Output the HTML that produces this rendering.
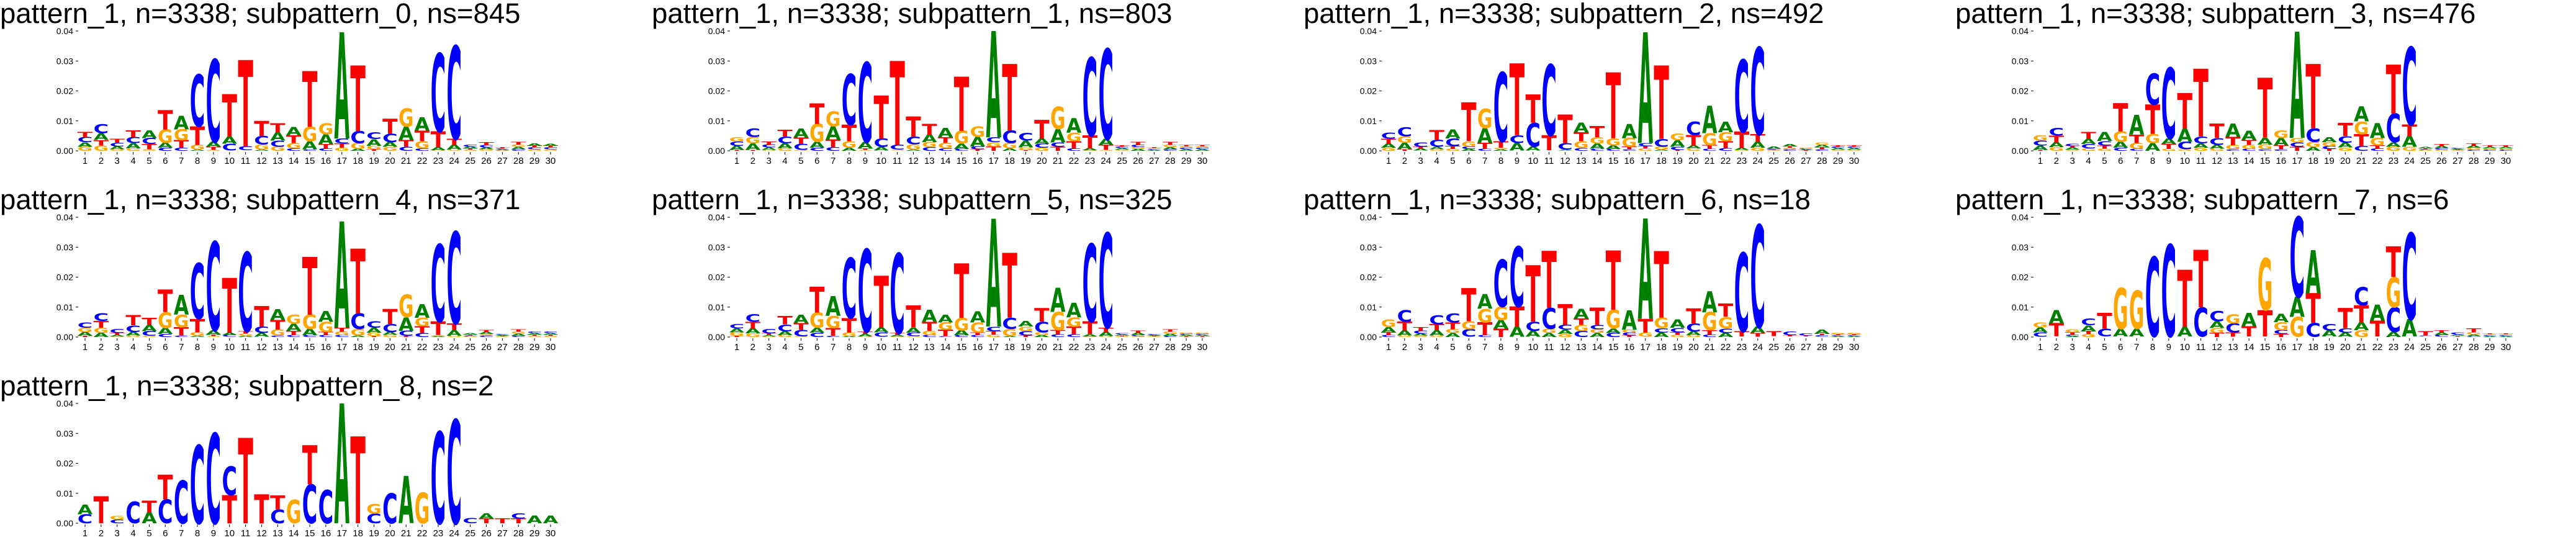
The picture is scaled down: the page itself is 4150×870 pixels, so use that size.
<!DOCTYPE html>
<html><head><meta charset="utf-8"><title>Sequence logos</title>
<style>html,body{margin:0;padding:0;background:#fff;}svg{display:block;}</style>
</head><body>
<svg id="fig" xmlns="http://www.w3.org/2000/svg" width="4150" height="870" viewBox="0 0 4150 870"></svg>
<script>
// ---- data (heights in units of 0.001) ----
const positions = [1,2,3,4,5,6,7,8,9,10,11,12,13,14,15,16,17,18,19,20,21,22,23,24,25,26,27,28,29,30];
const yTicks = [0, 0.01, 0.02, 0.03, 0.04];
const yTickLabels = ["0.00","0.01","0.02","0.03","0.04"];
const subpatternIds = [0,1,2,3,4,5,6,7,8];
const subpatternSizes = [845,803,492,476,371,325,18,6,2];

const A0=[1.5,2.3,1,1.8,2.5,1.7,4.6,0.4,1.7,2.4,0.1,0.4,2.8,2.8,2.7,3.3,35.5,0.6,2.2,1.6,4.5,4.5,1,1.6,0.6,0.6,0.3,0.8,0.8,0.7];
const C0=[1.7,3,1.2,2,2,1,1,17.2,27.5,2.3,1.3,2.8,2,0.8,0.5,0.8,1.6,4,2.3,2.8,1.3,0.8,26,31,0.6,0.8,0.3,0.5,0.6,0.6];
const G0=[1.4,1.8,0.5,0.8,0.5,4.5,3.7,1.6,0.3,0.1,0.1,1.8,1.4,1.8,4.8,3.7,1,2,1.2,1.3,6,2.4,0.2,0.4,0.4,0.5,0.2,0.8,0.5,0.5];
const T0=[1.7,1.8,1.3,2.3,1.8,6.4,2.5,6.2,1,14.1,28.8,5,3,2.6,18.6,1.4,1.5,21.9,0.5,5,2.3,3.5,5.3,2,0.4,1.1,0.4,0.9,0.6,0.6];

const A1=[1.4,2.2,0.8,1.7,3,2,4.5,1,2.2,1.2,0.1,0.4,2.5,3.1,1.8,3.2,35.5,0.8,2.3,1.7,4.5,4.8,0.6,2,0.5,0.6,0.3,0.7,0.5,0.5];
const C1=[1.4,2.8,1,2.3,2,1,1.2,16.8,26.5,2.8,1.6,2.6,1.2,0.8,0.6,1,1.6,4.1,2.5,1.4,1.5,0.8,26,30,0.5,0.8,0.3,0.5,0.5,0.5];
const G1=[1.5,2.2,0.3,0.8,0.3,6,5,2.2,0.3,0.1,0.3,1.8,1.7,1.9,4.3,3.5,1.5,1.9,0.9,1,7.4,2.8,0.2,0.3,0.4,0.6,0.3,0.8,0.5,0.5];
const T1=[0.3,0.3,1.1,2.3,2.2,6.9,2.5,5.5,0.5,14.3,28,6.7,3.6,1.9,18,0.5,1.4,22.2,0.2,6.2,1.3,2.4,4.3,1.7,0.5,1,0.3,1,0.5,0.5];

const A2=[1.4,2.2,0.6,0.8,3,0.6,5,0.5,2.5,1.3,0.1,0.3,3.2,1.7,1.2,4.7,37,0.4,2.2,1,9.2,3.5,0.6,2,0.6,0.8,0.3,0.8,0.5,0.5];
const C2=[2,3,1.4,2.4,2.5,0.8,0.6,23,2.6,8,23.6,2.2,0.9,0.7,0.6,0.5,1,2.6,1,4.4,0.7,0.9,24,29,0.3,0.5,0.3,0.5,0.5,0.5];
const G2=[1,2.2,0.1,0.5,0.6,1.8,6.5,0.5,0.1,0.1,0.1,0.1,2.3,2.2,2.4,2.9,0.8,1,2.3,0.8,4,3,0.3,1,0.2,0.5,0.3,0.8,0.4,0.4];
const T2=[1.6,0.5,0.6,3.2,1,13,2,2.2,24,9.4,5,9.6,3,3.8,22,0.9,0.8,24.5,0.3,3.5,1.2,2.3,5.5,2.5,0.2,0.5,0.2,0.7,0.5,0.5];

const A3=[1.5,1.6,0.6,1.7,3,2,6.6,2.6,1.9,4.5,1.5,1.3,4.4,3.1,2.3,2.5,35.5,1.2,1.6,1.6,5,5,1.5,3.6,0.5,0.6,0.3,0.7,0.5,0.5];
const C3=[1.6,2.5,0.8,1.5,1.5,1,0.6,10.4,23.5,2.5,2.3,2.3,0.5,0.6,0.5,0.5,1.5,4.5,1,2.2,1.6,0.8,9.5,25.8,0.3,0.5,0.3,0.4,0.4,0.4];
const G3=[1.8,1.2,0.4,0.8,0.7,3.5,2,3,0.6,0.5,1,0.7,1.4,1.4,1.6,2.5,1.5,1.8,1.3,1.1,4.2,2.5,1.4,1.3,0.2,0.4,0.2,0.6,0.4,0.4];
const T3=[0.3,2.3,0.6,2.3,1.1,9.4,2.8,9.8,1.7,11.8,22.6,4.9,2.8,1.6,20,1.3,1.3,21.5,0.6,4.4,4,1,16.3,3.9,0.3,0.8,0.2,0.8,0.5,0.5];

const A4=[1.3,1.4,0.5,1.2,2,2,6.6,0.4,1.5,0.7,0.4,1.3,3.6,2.4,2.1,3.6,35.5,0.5,1.6,1,4.5,4.6,0.3,1.9,0.5,0.6,0.3,0.7,0.5,0.5];
const C4=[1.8,2.6,1.3,2.2,1.6,1,0.5,18.5,29.5,0.6,26.4,2.1,0.5,0.6,0.6,0.7,0.6,5.2,2.2,2.7,1.7,1.3,25.7,30.5,0.3,0.5,0.3,0.4,0.5,0.5];
const G4=[1.4,1.7,0.2,0.5,0.4,5.3,4.2,1.2,0.3,0.1,0.7,0.1,2,3,4.8,3.4,1.2,2.2,1.2,0.7,7.5,2.8,0.3,0.4,0.2,0.5,0.2,0.7,0.4,0.4];
const T4=[0.4,2.3,0.7,3.3,2.4,7.5,2.8,4.5,0.5,18.3,0.8,6.8,3.2,1.5,19.3,1,1.3,21.6,0.3,5,0.4,2.3,4.6,2.3,0.3,0.8,0.2,0.8,0.4,0.4];

const A5=[1.3,1.7,0.4,1.3,2.8,1.6,6.6,0.2,0.8,1.6,0.5,1.6,4,2.6,1.7,3.8,36,0.3,1.9,0.6,8.1,4.8,0.7,1.4,0.4,0.6,0.3,0.6,0.4,0.4];
const C5=[1.5,2.6,1.5,2.3,2.2,1.5,0.4,20,27.5,1.5,26.6,1.2,0.6,0.3,0.6,0.6,1.5,3.8,1.5,3.5,0.9,0.9,25.9,31.5,0.4,0.4,0.3,0.4,0.4,0.4];
const G5=[1.2,1.2,0.2,0.6,0.2,5.1,4,1.3,0.2,0.1,0.2,0.3,1.5,2.5,4.1,3.4,0.8,2.4,1.5,1,6.1,3.1,0.2,0.3,0.2,0.3,0.2,0.8,0.4,0.4];
const T5=[0.4,2.2,0.6,2.8,2.3,8.6,2.6,4.9,0.8,17.2,0.6,7.4,3,2.1,18.2,0.9,1.2,21.6,0.5,4.6,1.4,2.5,4.3,1.5,0.3,0.8,0.2,0.8,0.3,0.3];

const A6=[1.7,1.7,0.6,1.8,1.3,0.1,4.8,2.9,3.4,2,1.3,1.5,3.2,1.3,1.5,6.5,33.5,1.5,2.8,1.3,7,1.4,0.1,2.1,0.1,0.1,0.1,1.3,0.3,0.3];
const C6=[0.6,3.9,1,3,3,2.5,0.6,15.6,20,3,7,1.6,2,1.4,1.4,1,0.1,1.5,1.5,2.7,0.8,1.5,26.2,34,0.1,1.2,0.6,0.5,0.3,0.3];
const G6=[2.5,0.5,0.5,0.5,1.3,2.7,4.5,4.5,0.1,0.1,1.4,1,2,1.3,6.2,1,1.4,3.5,0.7,0.6,6,3.8,0.1,0.1,0.1,0.1,0.1,0.1,0.5,0.5];
const T6=[1,2.9,1.2,2,2.3,11,4.3,2.8,6.7,18.8,19,6.8,2.2,5.8,19.8,0.5,4.6,22.2,0.9,5,1.5,4.5,1.7,1.2,1.6,0.4,0.3,0.5,0.3,0.3];

const A7=[1.6,4.5,0.3,1.9,0.1,2.6,2.6,0.1,0.1,3.2,0.1,2.3,0.1,4.4,0.1,2.8,6.7,14.4,2,1.4,2.7,5.4,1.8,5.8,0.1,0.8,0.4,0.5,0.3,0.3];
const C7=[1.5,0.1,0.5,2.3,2.6,0.1,0.1,26.4,30.5,0.1,9.7,3.3,3,0.1,0.1,1.3,26.7,4.6,2.2,1.5,6,0.1,8.2,28.7,0.3,0.6,0.6,0.3,0.3,0.3];
const G7=[1.6,0.1,1,1,0.1,13.6,12.6,0.1,0.1,0.1,0.1,1.6,3,0.1,17.3,2.7,6.6,0.1,0.1,0.1,2.3,0.1,10,0.1,0.1,0.1,0.1,0.8,0.3,0.3];
const T7=[0.1,4.4,0.8,1,5.2,0.1,0.1,0.1,0.1,19,19.2,1.4,1.5,3.4,8.8,1,0.1,9.9,0.1,6.7,5.6,5.3,10.2,0.1,1.4,0.8,0.3,1.3,0.3,0.3];

const A8=[3.2,0,0,0,3.6,0,0,0,0,0,0,0,0,0,0,0,40,0,0,0,15.7,0,0,0,0,1.8,0,0,2.6,2.6];
const C8=[3,0,1.2,7.2,0,8,14.3,26,30,9.5,0,0,4.6,0,13,11,0,0,3.2,10,0,0,30.5,34.5,1.8,0,0,1.8,0,0];
const G8=[0,0,1.2,0,0,0,0,0,0,0,0,0,0,7.8,0,0,0,0,3.2,0,0,10.3,0,0,0,0,0,0,0,0];
const T8=[0,9,0,0,3.9,8.2,0,0,0,9.4,28.5,9.7,4.7,0,13.1,0,0,29,0,0,0,0,0,0,0,1.6,1.6,1.6,0,0];

const panelA=[A0,A1,A2,A3,A4,A5,A6,A7,A8];
const panelC=[C0,C1,C2,C3,C4,C5,C6,C7,C8];
const panelG=[G0,G1,G2,G3,G4,G5,G6,G7,G8];
const panelT=[T0,T1,T2,T3,T4,T5,T6,T7,T8];

// ---- drawing ----
const NS="http://www.w3.org/2000/svg";
const svg=document.getElementById('fig');
const COLORS={A:'#008000',C:'#0000ff',G:'#ffa500',T:'#ff0000'};
const ADV={A:77.4,C:73.4,G:82.1,T:68.2};
const COLW=1050, ROWH=300, X0=137, DX=25.86, YB=243, YT=50, LW=24.5;
function xScale(pos){return X0+(pos-1)*DX;}
function yScale(v){return YB-(v/0.04)*(YB-YT);}
function mk(tag,attrs,parent){const e=document.createElementNS(NS,tag);for(const k in attrs)e.setAttribute(k,attrs[k]);(parent||svg).appendChild(e);return e;}

const bg=mk('rect',{x:0,y:0,width:4150,height:870,fill:'#fff'});



subpatternIds.forEach((sp,pi)=>{
  const col=pi%4,row=Math.floor(pi/4);
  const g=mk('g',{transform:`translate(${col*COLW},${row*ROWH})`});
  
  
  const title=`pattern_1, n=3338; subpattern_${sp}, ns=${subpatternSizes[pi]}`;
  const t=mk('text',{x:0,y:37,'font-family':'"Liberation Sans",sans-serif','font-size':45,fill:'#000',textLength:(title.length*21.5).toFixed(1),lengthAdjust:'spacingAndGlyphs'},g);
  t.textContent=title;
  
  
  // y axis
  yTicks.forEach((v,i)=>{
    const y=yScale(v);
    const tk=mk('line',{x1:122,x2:126,y1:y,y2:y,stroke:'#000','stroke-width':1},g);
    
    
    const lb=mk('text',{x:118,y:y+5,'text-anchor':'end','font-family':'"Liberation Sans",sans-serif','font-size':14,fill:'#000'},g);
    lb.textContent=yTickLabels[i];
    
    
  });
  // x axis
  positions.forEach(p=>{
    const x=xScale(p);
    const tk=mk('line',{x1:x,x2:x,y1:YB+2,y2:YB+6,stroke:'#000','stroke-width':1},g);
    
    
    const lb=mk('text',{x:x,y:YB+21,'text-anchor':'middle','font-family':'"Liberation Sans",sans-serif','font-size':15,fill:'#000'},g);
    lb.textContent=String(p);
    
    
  });
  // letters
  positions.forEach((p,i)=>{
    const stack=[['A',panelA[pi][i]],['C',panelC[pi][i]],['G',panelG[pi][i]],['T',panelT[pi][i]]]
      .filter(d=>d[1]>0).sort((a,b)=>a[1]-b[1]);
    let cum=0;
    const xl=xScale(p)-LW/2;
    stack.forEach(([L,h])=>{
      const yb=yScale(cum/1000), yt=yScale((cum+h)/1000);
      cum+=h;
      const ph=yb-yt;
      if(ph<0.6)return;
      const sx=LW/ADV[L], sy=ph/72.9;
      const lt=mk('text',{x:0,y:0,'font-family':'"DejaVu Sans",sans-serif','font-weight':'bold','font-size':100,fill:COLORS[L],transform:`translate(${xl.toFixed(2)},${yb.toFixed(2)}) scale(${sx.toFixed(4)},${sy.toFixed(4)})`},g);
      lt.textContent=L;
      
      
    });
  });
});
</script>
</body></html>
